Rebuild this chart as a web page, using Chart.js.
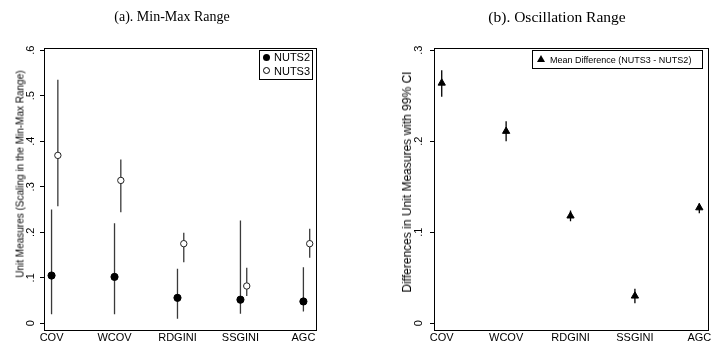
<!DOCTYPE html>
<html lang="en">

<head>
    <meta charset="UTF-8">
    <title>Min-Max and Oscillation Range</title>
    <script src="https://cdn.jsdelivr.net/npm/chart.js"></script>
    <style>
        html, body {
            margin: 0;
            padding: 0;
            background: #fff;
            width: 711px;
            height: 347px;
            overflow: hidden;
        }

        canvas {
            position: absolute;
            top: 0;
        }

        .title {
            position: absolute;
            font-family: 'Liberation Serif', 'Times New Roman', serif;
            color: #000;
            white-space: nowrap;
            transform: translate(-50%, -50%);
        }

        .ytitle {
            position: absolute;
            font-family: 'Liberation Sans', Arial, sans-serif;
            color: #000;
            white-space: nowrap;
            transform: translate(-50%, -50%) rotate(-90deg);
        }

        .legend-box {
            position: absolute;
            box-sizing: border-box;
            border: 1px solid #000;
            background: #fff;
        }

        .legend-text {
            position: absolute;
            font-family: 'Liberation Sans', Arial, sans-serif;
            color: #000;
            white-space: nowrap;
            line-height: 14px;
        }

        .dot {
            position: absolute;
            box-sizing: border-box;
            border-radius: 50%;
        }

        .tri {
            position: absolute;
            width: 0;
            height: 0;
            border-left: 4px solid transparent;
            border-right: 4px solid transparent;
            border-bottom: 7px solid #000;
        }
    </style>
</head>

<body>

    <canvas id="chartA" width="360" height="347" style="left:0"></canvas>
    <canvas id="chartB" width="360" height="347" style="left:360px"></canvas>

    <div class="title" style="left:172px;top:17px;font-size:14px">(a). Min-Max Range</div>
    <div class="title" style="left:557px;top:17px;font-size:15.5px">(b). Oscillation Range</div>

    <div class="ytitle" style="left:20px;top:174px;font-size:10px">Unit Measures (Scaling in the Min-Max Range)</div>
    <div class="ytitle" style="left:407px;top:182px;font-size:12px">Differences in Unit Measures with 99% CI</div>

    <!-- legend (a) -->
    <div class="legend-box" style="left:259px;top:50px;width:54px;height:30px"></div>
    <div class="dot" style="left:263px;top:53.5px;width:7px;height:7px;background:#000"></div>
    <div class="legend-text" style="left:274px;top:50px;font-size:11px">NUTS2</div>
    <div class="dot" style="left:263px;top:67px;width:7px;height:7px;border:1px solid #000;background:#fff"></div>
    <div class="legend-text" style="left:274px;top:63.5px;font-size:11px">NUTS3</div>

    <!-- legend (b) -->
    <div class="legend-box" style="left:532px;top:50px;width:171px;height:19px"></div>
    <div class="tri" style="left:536.5px;top:55px"></div>
    <div class="legend-text" style="left:550px;top:52.5px;font-size:9px">Mean Difference (NUTS3 - NUTS2)</div>

    <script>
        // categories on the x axis
        const categories = ['COV', 'WCOV', 'RDGINI', 'SSGINI', 'AGC'];

        // panel (a): min-max range
        const nuts2Mean = [0.105, 0.102, 0.056, 0.052, 0.048];
        const nuts2Min = [0.020, 0.020, 0.010, 0.021, 0.026];
        const nuts2Max = [0.250, 0.220, 0.120, 0.226, 0.123];
        const nuts3Mean = [0.369, 0.314, 0.175, 0.082, 0.175];
        const nuts3Min = [0.257, 0.244, 0.134, 0.060, 0.144];
        const nuts3Max = [0.535, 0.360, 0.199, 0.122, 0.208];

        // panel (b): mean difference with 99% CI
        const diffMean = [0.264, 0.211, 0.118, 0.030, 0.127];
        const diffLow = [0.249, 0.200, 0.112, 0.022, 0.121];
        const diffHigh = [0.278, 0.222, 0.124, 0.038, 0.132];

        // tick labels
        const yTicksA = [0, 0.1, 0.2, 0.3, 0.4, 0.5, 0.6];
        const yLabelsA = ['0', '.1', '.2', '.3', '.4', '.5', '.6'];
        const yTicksB = [0, 0.1, 0.2, 0.3];
        const yLabelsB = ['0', '.1', '.2', '.3'];

        const NUTS3_SHIFT = 0.1;
        const sans = "'Liberation Sans', Arial, sans-serif";

        function points(values, shift) {
            return values.map((v, i) => ({ x: i + 1 + shift, y: v }));
        }

        // vertical whiskers as one broken line
        function whiskers(lo, hi, shift) {
            const out = [];
            lo.forEach((l, i) => {
                const x = i + 1 + shift;
                out.push({ x: x, y: l }, { x: x, y: hi[i] }, { x: x, y: null });
            });
            return out;
        }

        // full box round the plot area
        const framePlugin = {
            id: 'frame',
            afterDraw(chart) {
                const { ctx, chartArea: a } = chart;
                ctx.save();
                ctx.strokeStyle = '#000';
                ctx.lineWidth = 1;
                ctx.strokeRect(Math.round(a.left) + 0.5, Math.round(a.top) + 0.5,
                    Math.round(a.right - a.left), Math.round(a.bottom - a.top));
                ctx.restore();
            }
        };

        function makeOptions(cfg) {
            return {
                responsive: false,
                animation: false,
                layout: { padding: { top: 48, right: cfg.padRight, bottom: 0, left: 0 } },
                plugins: {
                    legend: { display: false },
                    tooltip: { enabled: false }
                },
                scales: {
                    x: {
                        type: 'linear',
                        min: cfg.xMin,
                        max: cfg.xMax,
                        afterBuildTicks: s => { s.ticks = categories.map((c, i) => ({ value: i + 1 })); },
                        afterFit: s => { s.height = 17; },
                        grid: { display: false, drawTicks: false },
                        border: { display: false },
                        ticks: {
                            autoSkip: false,
                            maxRotation: 0,
                            padding: 1,
                            color: '#000',
                            font: { family: sans, size: 11 },
                            callback: v => categories[Math.round(v) - 1]
                        }
                    },
                    y: {
                        min: cfg.yMin,
                        max: cfg.yMax,
                        afterBuildTicks: s => { s.ticks = cfg.yTicks.map(v => ({ value: v })); },
                        afterFit: s => { s.width = cfg.yWidth; },
                        grid: { drawOnChartArea: false, drawTicks: true, tickLength: 4, color: '#000' },
                        border: { display: false },
                        ticks: {
                            minRotation: 90,
                            maxRotation: 90,
                            crossAlign: 'center',
                            padding: cfg.yPad,
                            color: '#000',
                            font: { family: sans, size: 11 },
                            callback: (v, i) => cfg.yLabels[i]
                        }
                    }
                }
            };
        }

        // Chart (a)
        new Chart(document.getElementById('chartA'), {
            type: 'scatter',
            data: {
                datasets: [
                    {
                        label: 'NUTS2',
                        data: points(nuts2Mean, 0),
                        pointRadius: 3.6,
                        borderWidth: 1,
                        backgroundColor: '#000',
                        borderColor: '#000',
                        order: 0
                    },
                    {
                        label: 'NUTS3',
                        data: points(nuts3Mean, NUTS3_SHIFT),
                        pointRadius: 3.2,
                        borderWidth: 1,
                        backgroundColor: '#fff',
                        borderColor: '#222',
                        order: 0
                    },
                    {
                        label: 'NUTS2 range',
                        data: whiskers(nuts2Min, nuts2Max, 0),
                        showLine: true,
                        pointRadius: 0,
                        borderWidth: 1.3,
                        borderColor: '#3a3a3a',
                        order: 1
                    },
                    {
                        label: 'NUTS3 range',
                        data: whiskers(nuts3Min, nuts3Max, NUTS3_SHIFT),
                        showLine: true,
                        pointRadius: 0,
                        borderWidth: 1.3,
                        borderColor: '#3a3a3a',
                        order: 1
                    }
                ]
            },
            options: makeOptions({
                padRight: 44, yWidth: 44, yPad: 4.2,
                xMin: 0.88, xMax: 5.2,
                yMin: -0.0147, yMax: 0.605,
                yTicks: yTicksA, yLabels: yLabelsA
            }),
            plugins: [framePlugin]
        });

        // Chart (b)
        new Chart(document.getElementById('chartB'), {
            type: 'scatter',
            data: {
                datasets: [
                    {
                        label: 'Mean Difference (NUTS3 - NUTS2)',
                        data: points(diffMean, 0),
                        pointStyle: 'triangle',
                        pointRadius: 4.2,
                        borderWidth: 1,
                        backgroundColor: '#000',
                        borderColor: '#000',
                        order: 0
                    },
                    {
                        label: '99% CI',
                        data: whiskers(diffLow, diffHigh, 0),
                        showLine: true,
                        pointRadius: 0,
                        borderWidth: 1.3,
                        borderColor: '#000',
                        order: 1
                    }
                ]
            },
            options: makeOptions({
                padRight: 12, yWidth: 74, yPad: 6.1,
                xMin: 0.88, xMax: 5.135,
                yMin: -0.0074, yMax: 0.3025,
                yTicks: yTicksB, yLabels: yLabelsB
            }),
            plugins: [framePlugin]
        });
    </script>

</body>

</html>
